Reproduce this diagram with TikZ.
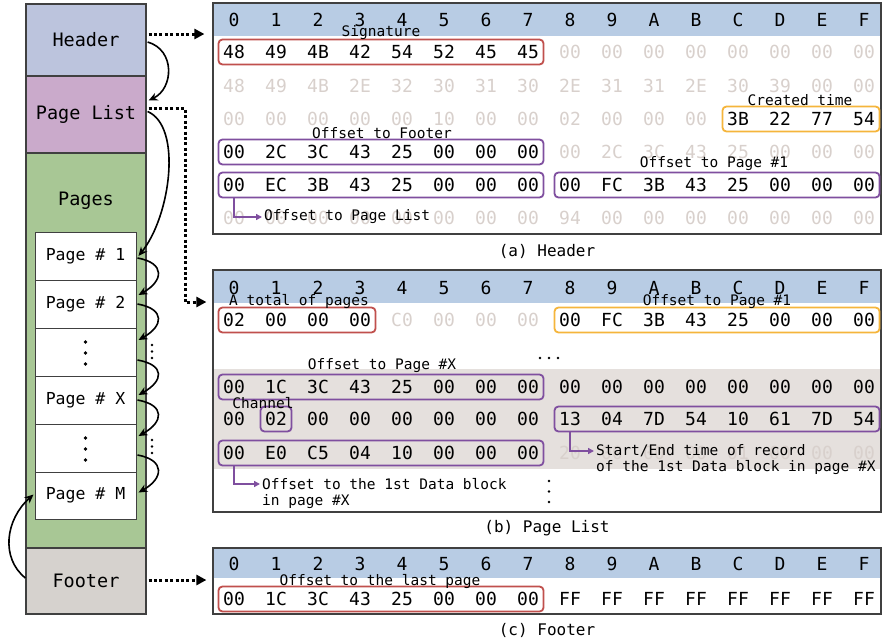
\documentclass[tikz,border=0pt]{standalone}
\usepackage{fontspec}
\setmainfont{DejaVu Sans Mono}
\usetikzlibrary{arrows.meta,calc,fit}
\definecolor{hdrc}{HTML}{BCC4DD}
\definecolor{plc}{HTML}{CAAACB}
\definecolor{pgc}{HTML}{A8C795}
\definecolor{ftc}{HTML}{D6D2CE}
\definecolor{bandcol}{HTML}{B8CCE4}
\definecolor{grayband}{HTML}{E5E0DD}
\definecolor{fadec}{HTML}{D8D0CC}
\definecolor{redc}{HTML}{C0504D}
\definecolor{purc}{HTML}{7F4F9F}
\definecolor{orc}{HTML}{F5B53C}
\definecolor{edgec}{HTML}{404040}
\newcommand{\HexRow}[5]{%
  \foreach \v [count=\i from 0] in {#4} {%
    \pgfmathtruncatemacro\cc{#3+\i}%
    \node[#5] (#1\cc) at ({234+42*\cc},#2) {\v};%
  }%
}
\begin{document}
\begin{tikzpicture}[x=1pt,y=-1pt,
  colbox/.style={draw=edgec, line width=1.2pt, minimum width=120pt, inner sep=0pt, font=\fontsize{18.5}{20}\selectfont},
  pagebox/.style={draw=edgec, line width=1pt, fill=white, minimum width=101pt, minimum height=48pt, inner sep=0pt, font=\fontsize{16.5}{18}\selectfont},
  bigtxt/.style={inner sep=0pt, font=\fontsize{18.5}{20}\selectfont},
  tbl/.style={draw=edgec, line width=1.2pt, minimum width=668pt, inner sep=0pt},
  band/.style={fill=#1, minimum width=668pt, inner sep=0pt},
  hex/.style={inner sep=0pt, font=\fontsize{18}{20}\selectfont, text=black},
  faded/.style={hex, text=fadec},
  rbox/.style={rounded corners=4pt, line width=1.8pt, inner xsep=4.5pt, inner ysep=5.5pt},
  lbl/.style={inner sep=0pt, font=\fontsize{14.5}{16}\selectfont},
  captxt/.style={inner sep=0pt, font=\fontsize{16}{18}\selectfont},
  conn/.style={-{Stealth[length=9pt,width=8pt]}, line width=1.6pt},
  dotarrow/.style={line width=3pt, dash pattern=on 3pt off 2.4pt, -{Triangle[length=10pt,width=10pt]}},
  parrow/.style={draw=purc, line width=2pt, -{Triangle[length=6pt,width=6pt]}, shorten >=2pt},
  dotc/.style={fill=black}
]
\useasboundingbox (0,0) rectangle (882,643);

% ---------------- left column ----------------
\node[colbox, fill=hdrc, minimum height=72pt] (hdr) at (86,40) {Header};
\node[colbox, fill=plc, minimum height=77pt] (pl) at (86,114.5) {Page List};
\node[colbox, fill=pgc, minimum height=395pt] (pgs) at (86,350.5) {};
\node[bigtxt] (pgsl) at (86,201) {Pages};
\node[colbox, fill=ftc, minimum height=66pt] (ftr) at (86,581) {Footer};

\node[pagebox] (p1) at (85.5,256) {Page \# 1};
\node[pagebox] (p2) at (85.5,304) {Page \# 2};
\node[pagebox] (pd1) at (85.5,352) {};
\node[pagebox] (px) at (85.5,400) {Page \# X};
\node[pagebox] (pd2) at (85.5,448) {};
\node[pagebox, minimum height=47pt] (pm) at (85.5,495.5) {Page \# M};

\foreach \yy in {342,353,364} {\fill[dotc] (85.5,\yy) circle (1.8pt);}
\foreach \yy in {438,449,460} {\fill[dotc] (85.5,\yy) circle (1.8pt);}
\foreach \yy in {345,351.5,358} {\fill[dotc] (152,\yy) circle (1.3pt);}
\foreach \yy in {440,446.5,453} {\fill[dotc] (152,\yy) circle (1.3pt);}

\draw[conn] ($(hdr.east)+(1,2)$) .. controls +(28,8) and +(25,-12) .. ($(pl.east)+(2,-14)$);
\draw[conn] ($(pl.east)+(1,-3)$) .. controls +(35,15) and +(32,-40) .. ($(p1.east)+(2,0)$);
\draw[conn] ($(p1.east)+(1,2)$) .. controls +(28,5) and +(25,-14) .. ($(p2.east)+(2,-9)$);
\draw[conn] ($(p2.east)+(1,0)$) .. controls +(28,5) and +(25,-14) .. ($(pd1.east)+(2,-12)$);
\draw[conn] ($(pd1.east)+(1,8)$) .. controls +(28,5) and +(25,-14) .. ($(px.east)+(2,-5)$);
\draw[conn] ($(px.east)+(1,0)$) .. controls +(28,5) and +(25,-14) .. ($(pd2.east)+(2,-12)$);
\draw[conn] ($(pd2.east)+(1,7)$) .. controls +(28,5) and +(25,-14) .. ($(pm.east)+(2,-3)$);
\draw[conn] ($(ftr.west)+(0,-3)$) .. controls +(-25,-20) and +(-28,25) .. ($(pm.west)+(-1,-1)$);

% ---------------- table (a) ----------------
\node[band=bandcol, minimum height=33pt] (banda) at (547,19.5) {};
\node[tbl, minimum height=231pt] (taba) at (547,118.5) {};
\HexRow{ah}{20}{0}{0,1,2,3,4,5,6,7,8,9,A,B,C,D,E,F}{hex}
\HexRow{a1c}{52}{0}{48,49,4B,42,54,52,45,45}{hex}
\HexRow{a1c}{52}{8}{00,00,00,00,00,00,00,00}{faded}
\HexRow{a2c}{86}{0}{48,49,4B,2E,32,30,31,30,2E,31,31,2E,30,39,00,00}{faded}
\HexRow{a3c}{119}{0}{00,00,00,00,00,10,00,00,02,00,00,00}{faded}
\HexRow{a3c}{119}{12}{3B,22,77,54}{hex}
\HexRow{a4c}{152}{0}{00,2C,3C,43,25,00,00,00}{hex}
\HexRow{a4c}{152}{8}{00,2C,3C,43,25,00,00,00}{faded}
\HexRow{a5c}{185}{0}{00,EC,3B,43,25,00,00,00,00,FC,3B,43,25,00,00,00}{hex}
\HexRow{a6c}{218}{0}{00,00,00,00,00,00,00,00,94,00,00,00,00,00,00,00}{faded}

\node[rbox, draw=redc, fit=(a1c0)(a1c7)] (sigbox) {};
\node[rbox, draw=orc, fit=(a3c12)(a3c15)] (ctbox) {};
\node[rbox, draw=purc, fit=(a4c0)(a4c7)] (oftbox) {};
\node[rbox, draw=purc, fit=(a5c0)(a5c7)] (oplbox) {};
\node[rbox, draw=purc, fit=(a5c8)(a5c15)] (op1box) {};

\node[lbl] (sigl) at (381,33) {Signature};
\node[lbl] (ctl) at (800,100) {Created time};
\node[lbl] (oftl) at (382,133) {Offset to Footer};
\node[lbl] (op1l) at (714,164) {Offset to Page \#1};
\node[lbl, anchor=west] (opll) at (264,217) {Offset to Page List};
\draw[parrow] (a5c0 |- oplbox.south) |- (opll.west);
\node[captxt] (capa) at (547,251) {(a) Header};

% ---------------- table (b) ----------------
\node[band=bandcol, minimum height=33pt] (bandb) at (547,286.5) {};
\node[band=grayband, minimum height=100pt] (grayb) at (547,419) {};
\node[tbl, minimum height=242pt] (tabb) at (547,391) {};
\HexRow{bh}{288}{0}{0,1,2,3,4,5,6,7,8,9,A,B,C,D,E,F}{hex}
\HexRow{b1c}{320}{0}{02,00,00,00}{hex}
\HexRow{b1c}{320}{4}{C0,00,00,00}{faded}
\HexRow{b1c}{320}{8}{00,FC,3B,43,25,00,00,00}{hex}
\HexRow{b2c}{387}{0}{00,1C,3C,43,25,00,00,00,00,00,00,00,00,00,00,00}{hex}
\HexRow{b3c}{419}{0}{00,02,00,00,00,00,00,00,13,04,7D,54,10,61,7D,54}{hex}
\HexRow{b4c}{453}{0}{00,E0,C5,04,10,00,00,00}{hex}
\HexRow{b4c}{453}{8}{20,00,00,00,01,00,00,00}{faded}

\node[rbox, draw=redc, fit=(b1c0)(b1c3)] (totbox) {};
\node[rbox, draw=orc, fit=(b1c8)(b1c15)] (bp1box) {};
\node[rbox, draw=purc, fit=(b2c0)(b2c7)] (pxbox) {};
\node[rbox, draw=purc, fit=(b3c1)] (chbox) {};
\node[rbox, draw=purc, fit=(b3c8)(b3c15)] (strbox) {};
\node[rbox, draw=purc, fit=(b4c0)(b4c7)] (dbbox) {};

\node[lbl] (totl) at (299,302) {A total of pages};
\node[lbl] (bp1l) at (717,302) {Offset to Page \#1};
\node[lbl] (pxl) at (382,366) {Offset to Page \#X};
\node[lbl] (chl) at (263,403) {Channel};
\node[lbl, anchor=west] (sel1) at (596,451) {Start/End time of record};
\node[lbl, anchor=west] (sel2) at (596,467) {of the 1st Data block in page \#X};
\node[lbl, anchor=west] (odb1) at (262,484) {Offset to the 1st Data block};
\node[lbl, anchor=west] (odb2) at (262,502) {in page \#X};
\draw[parrow] (b3c8 |- strbox.south) |- (sel1.west);
\draw[parrow] (b4c0 |- dbbox.south) |- (odb1.west);
\foreach \xx in {540,549,558} {\fill[dotc] (\xx,358) circle (1.4pt);}
\foreach \yy in {481,491.5,502} {\fill[dotc] (549,\yy) circle (1.4pt);}
\node[captxt] (capb) at (547,528) {(b) Page List};

% ---------------- table (c) ----------------
\node[band=bandcol, minimum height=30pt] (bandcc) at (547,563) {};
\node[tbl, minimum height=66pt] (tabc) at (547,581) {};
\HexRow{ch}{564}{0}{0,1,2,3,4,5,6,7,8,9,A,B,C,D,E,F}{hex}
\HexRow{c1c}{599}{0}{00,1C,3C,43,25,00,00,00,FF,FF,FF,FF,FF,FF,FF,FF}{hex}
\node[rbox, draw=redc, fit=(c1c0)(c1c7)] (lastbox) {};
\node[lbl] (lastl) at (380,581) {Offset to the last page};
\node[captxt] (capc) at (547,630) {(c) Footer};

% ---------------- dotted links ----------------
\draw[dotarrow] ($(hdr.east)+(2,-6)$) -- ($(taba.west |- hdr.east)+(-8,-6)$);
\coordinate (plturn) at (185,302);
\draw[dotarrow] ($(pl.east)+(2,-6)$) -| (plturn) -- ($(tabb.west |- plturn)+(-6,0)$);
\draw[dotarrow] ($(ftr.east)+(2,-1)$) -- ($(tabc.west |- ftr.east)+(-6,-1)$);
\end{tikzpicture}
\end{document}
